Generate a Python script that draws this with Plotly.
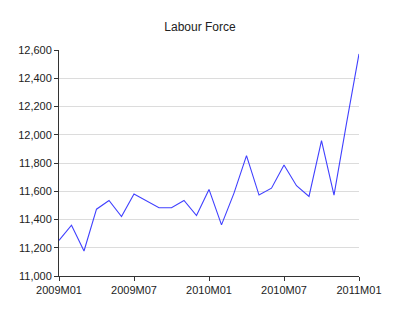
import plotly.graph_objects as go

months = ["2009M01","2009M02","2009M03","2009M04","2009M05","2009M06","2009M07","2009M08","2009M09",
          "2009M10","2009M11","2009M12","2010M01","2010M02","2010M03","2010M04","2010M05","2010M06",
          "2010M07","2010M08","2010M09","2010M10","2010M11","2010M12","2011M01"]
labour_force = [11252, 11360, 11177, 11473, 11535, 11421, 11580, 11530, 11483,
                11483, 11535, 11428, 11613, 11362, 11587, 11852, 11573, 11622,
                11786, 11639, 11563, 11958, 11572, 12080, 12572]
x_tick_labels = ["2009M01", "2009M07", "2010M01", "2010M07", "2011M01"]
y_ticks = [11000, 11200, 11400, 11600, 11800, 12000, 12200, 12400, 12600]
grid_vals = [11200, 11400, 11600, 11800, 12000, 12200, 12400]

xidx = list(range(len(months)))
tickpos = [months.index(m) for m in x_tick_labels]

fig = go.Figure()
fig.add_trace(go.Scatter(x=xidx, y=labour_force, mode="lines",
                         line=dict(color="#4040ff", width=1.1),
                         hovertext=months, showlegend=False))

fig.update_layout(
    width=400, height=314,
    margin=dict(l=59, r=41, t=50, b=38),
    paper_bgcolor="white", plot_bgcolor="white",
    title=dict(text="Labour Force", x=0.5, xanchor="center", y=0.915, yanchor="middle",
               font=dict(family="Arial, Liberation Sans", size=12, color="#222222")),
    font=dict(family="Arial, Liberation Sans", size=11, color="#222222"),
    xaxis=dict(range=[0, 24], tickvals=tickpos, ticktext=x_tick_labels,
               showgrid=False, zeroline=False, showline=True, linecolor="#333333", linewidth=1,
               ticks="outside", ticklen=4, tickcolor="#333333"),
    yaxis=dict(range=[11000, 12600], tickvals=y_ticks, tickformat=",d",
               showgrid=False, zeroline=False, showline=True, linecolor="#333333", linewidth=1,
               ticks="outside", ticklen=4, tickcolor="#333333"),
    yaxis2=dict(range=[11000, 12600], overlaying="y", tickvals=grid_vals, showticklabels=False,
                showgrid=True, gridcolor="#dcdcdc", gridwidth=1, zeroline=False, showline=False,
                side="left", layer="below traces"),
)
fig.add_trace(go.Scatter(x=[0], y=[11000], yaxis="y2", mode="markers", marker=dict(opacity=0),
                         showlegend=False, hoverinfo="skip"))
fig.data = (fig.data[1], fig.data[0])
fig.write_html("out.html")
